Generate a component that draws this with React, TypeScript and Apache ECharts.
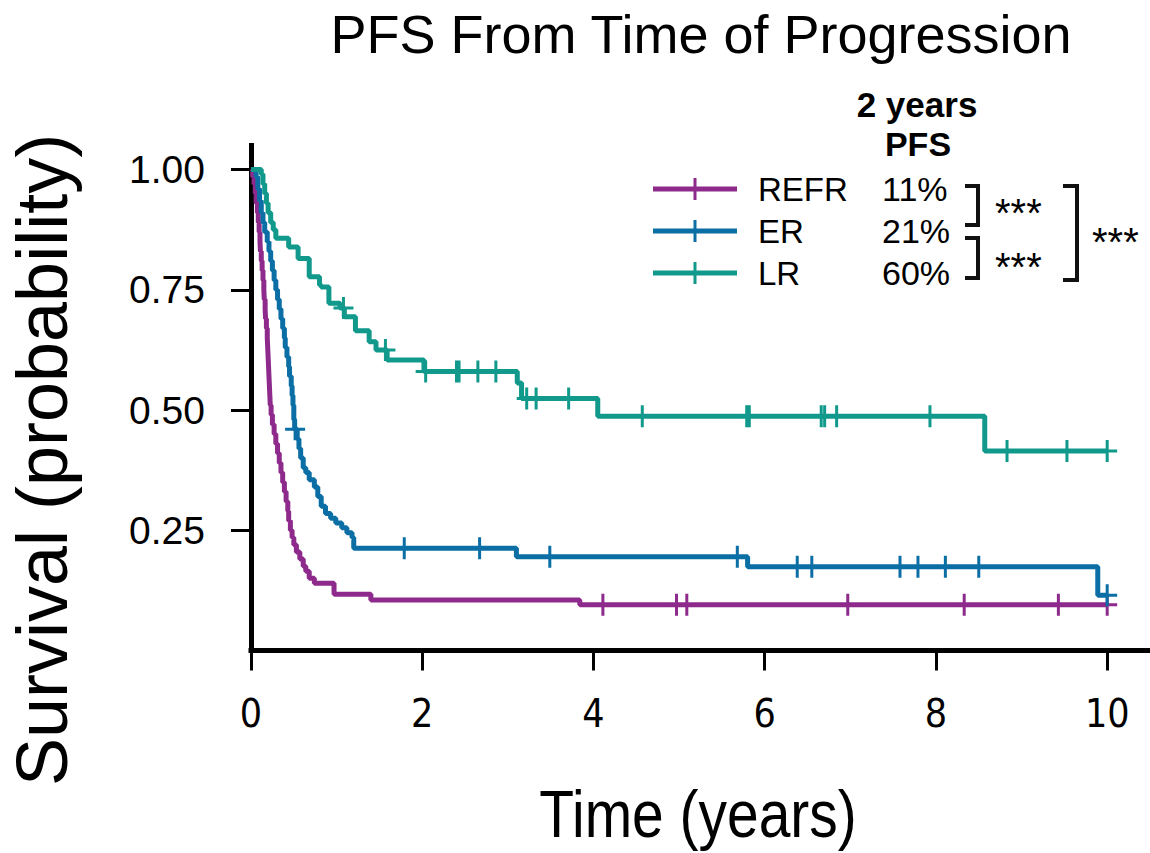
import React, { useEffect, useRef } from "react";
import * as echarts from "echarts";

// ---------- data ----------
const SERIES_NAMES = ["REFR", "ER", "LR"];
const SERIES_COLORS = ["#8D2A8B", "#0B6FA5", "#11998C"];
const PFS_2Y = ["11%", "21%", "60%"];
const X_TICKS = [0, 2, 4, 6, 8, 10];
const Y_TICKS = [0.25, 0.5, 0.75, 1.0];

// Kaplan-Meier steps [time (years), survival]
const REFR_STEPS = [
  [0, 1.0], [0.02, 0.985], [0.035, 0.97], [0.05, 0.95], [0.06, 0.93], [0.075, 0.91],
  [0.085, 0.89], [0.095, 0.87], [0.105, 0.85], [0.11, 0.83], [0.12, 0.81], [0.13, 0.79],
  [0.14, 0.77], [0.15, 0.75], [0.155, 0.73], [0.165, 0.71], [0.17, 0.69], [0.18, 0.67],
  [0.19, 0.65], [0.195, 0.63], [0.2, 0.61], [0.205, 0.59], [0.21, 0.57], [0.215, 0.55],
  [0.22, 0.53], [0.225, 0.51], [0.235, 0.49], [0.25, 0.47], [0.27, 0.45], [0.29, 0.43],
  [0.31, 0.41], [0.33, 0.39], [0.35, 0.37], [0.37, 0.35], [0.39, 0.33], [0.41, 0.31],
  [0.43, 0.29], [0.44, 0.27], [0.46, 0.25], [0.48, 0.235], [0.5, 0.22], [0.53, 0.205],
  [0.57, 0.19], [0.61, 0.175], [0.64, 0.165], [0.68, 0.15], [0.74, 0.14], [0.97, 0.117],
  [1.4, 0.105], [3.84, 0.095], [10.0, 0.095],
];
const REFR_CENSORED = [4.11, 4.97, 5.09, 6.97, 8.33, 9.43, 10.0];

const ER_STEPS = [
  [0, 1.0], [0.06, 0.985], [0.08, 0.96], [0.1, 0.935], [0.12, 0.91], [0.14, 0.89],
  [0.16, 0.87], [0.19, 0.85], [0.21, 0.83], [0.23, 0.81], [0.25, 0.79], [0.27, 0.77],
  [0.29, 0.75], [0.31, 0.73], [0.33, 0.71], [0.35, 0.69], [0.37, 0.67], [0.39, 0.65],
  [0.4, 0.63], [0.42, 0.61], [0.44, 0.59], [0.45, 0.57], [0.47, 0.55], [0.48, 0.53],
  [0.49, 0.51], [0.5, 0.48], [0.51, 0.46], [0.54, 0.44], [0.56, 0.42], [0.58, 0.4],
  [0.61, 0.38], [0.64, 0.37], [0.68, 0.355], [0.74, 0.34], [0.78, 0.32], [0.82, 0.3],
  [0.87, 0.285], [0.93, 0.275], [0.99, 0.265], [1.06, 0.255], [1.12, 0.245], [1.18, 0.235],
  [1.2, 0.2125], [3.1, 0.195], [5.8, 0.174], [9.89, 0.115], [10.0, 0.115],
];
const ER_CENSORED = [0.515, 1.79, 2.67, 3.49, 5.68, 6.38, 6.55, 7.58, 7.79, 8.11, 8.5, 10.0];

const LR_STEPS = [
  [0, 1.0], [0.12, 0.99], [0.14, 0.97], [0.16, 0.95], [0.18, 0.93], [0.2, 0.91],
  [0.23, 0.89], [0.26, 0.875], [0.29, 0.857], [0.44, 0.839], [0.55, 0.815], [0.68, 0.777],
  [0.8, 0.76], [0.82, 0.756], [0.91, 0.722], [1.04, 0.712], [1.09, 0.694], [1.22, 0.665],
  [1.38, 0.642], [1.46, 0.625], [1.59, 0.604], [2.02, 0.58], [3.11, 0.556], [3.16, 0.524],
  [4.05, 0.487], [8.57, 0.415], [10.0, 0.415],
];
const LR_CENSORED = [
  1.08, 1.57, 2.04, 2.4, 2.43, 2.65, 2.86, 3.22, 3.33, 3.71, 4.57, 5.79, 5.82, 6.66, 6.7,
  6.84, 7.93, 8.83, 9.53, 10.0,
];

// ---------- helpers ----------
const PLUS = "path://M-10,-1.5H10V1.5H-10Z M-1.5,-11H1.5V11H-1.5Z";
const LEGEND_ICON = "path://M0,8.5H84V13.5H0Z M40.5,0H43.5V22H40.5Z";

function survivalAt(steps: number[][], t: number): number {
  let s = steps[0][1];
  for (const [st, sv] of steps) {
    if (st <= t) s = sv;
    else break;
  }
  return s;
}

function buildData(steps: number[][], censored: number[]) {
  const items: { t: number; s: number; c: boolean }[] = [];
  steps.forEach(([t, s]) => items.push({ t, s, c: false }));
  censored.forEach((t) => items.push({ t, s: survivalAt(steps, t), c: true }));
  items.sort((a, b) => (a.t - b.t) || (a.c ? 1 : 0) - (b.c ? 1 : 0));
  return items.map((it) =>
    it.c
      ? { value: [it.t, it.s], symbol: PLUS, symbolSize: [20, 22] }
      : { value: [it.t, it.s] }
  );
}

const ALL_STEPS = [REFR_STEPS, ER_STEPS, LR_STEPS];
const ALL_CENSORED = [REFR_CENSORED, ER_CENSORED, LR_CENSORED];

const SANS = '"Liberation Sans", Arial, sans-serif';
const NARROW = '"Liberation Sans Narrow", "DejaVu Sans Condensed", sans-serif';

function textStyle(text: string, font: string, align = "center") {
  return {
    text,
    font,
    fill: "#000",
    align,
    verticalAlign: "middle",
    textAlign: align,
    textVerticalAlign: "middle",
  };
}

export default function App() {
  const ref = useRef<HTMLDivElement>(null);

  useEffect(() => {
    document.body.style.margin = "0";
    if (!ref.current) return;
    const chart = echarts.init(ref.current, undefined, { renderer: "svg" });

    const series = SERIES_NAMES.map((name, i) => ({
      type: "line",
      name,
      step: "end",
      data: buildData(ALL_STEPS[i], ALL_CENSORED[i]),
      symbol: "none",
      showSymbol: true,
      lineStyle: { width: 5, color: SERIES_COLORS[i] },
      itemStyle: { color: SERIES_COLORS[i] },
      emphasis: { disabled: true },
      z: 2 + i,
    }));

    const bracketStyle = { stroke: "#111", lineWidth: 4, fill: null };

    chart.setOption({
      animation: false,
      backgroundColor: "#fff",
      grid: { left: 251, right: 0, top: 145.5, bottom: 202.5, containLabel: false },
      xAxis: {
        type: "value",
        min: 0,
        max: 10.5,
        axisLine: { show: true, lineStyle: { color: "#000", width: 5, cap: "square" } },
        axisTick: {
          show: true,
          customValues: X_TICKS,
          length: 20,
          lineStyle: { color: "#000", width: 3 },
        },
        axisLabel: {
          customValues: X_TICKS,
          fontFamily: NARROW,
          fontSize: 39,
          color: "#000",
          margin: 43,
        },
        splitLine: { show: false },
      },
      yAxis: {
        type: "value",
        min: 0,
        max: 1.05,
        axisLine: { show: true, lineStyle: { color: "#000", width: 5, cap: "square" } },
        axisTick: {
          show: true,
          customValues: Y_TICKS,
          length: 20,
          lineStyle: { color: "#000", width: 3 },
        },
        axisLabel: {
          customValues: Y_TICKS,
          formatter: (v: number) => v.toFixed(2),
          fontFamily: SANS,
          fontSize: 39,
          color: "#000",
          margin: 46,
        },
        splitLine: { show: false },
      },
      legend: {
        show: true,
        orient: "vertical",
        left: 653,
        top: 172,
        padding: 0,
        itemWidth: 84,
        itemHeight: 22,
        itemGap: 8,
        icon: LEGEND_ICON,
        selectedMode: false,
        data: SERIES_NAMES.map((n, i) => ({
          name: n,
          itemStyle: { color: SERIES_COLORS[i] },
        })),
        formatter: (name: string) => {
          const i = SERIES_NAMES.indexOf(name);
          return `{n|${name}}{p|${PFS_2Y[i]}}`;
        },
        textStyle: {
          fontFamily: SANS,
          fontSize: 33,
          color: "#000",
          rich: {
            n: { fontFamily: SANS, fontSize: 33, color: "#000", width: 124, padding: [0, 0, 0, 16], lineHeight: 38 },
            p: { fontFamily: SANS, fontSize: 34, color: "#000", lineHeight: 38 },
          },
        },
      },
      graphic: [
        {
          type: "text",
          x: 701,
          y: 34,
          style: textStyle("PFS From Time of Progression", `54px ${SANS}`),
        },
        {
          type: "text",
          x: 698,
          y: 814,
          scaleX: 0.85,
          style: textStyle("Time (years)", `67px ${SANS}`),
        },
        {
          type: "text",
          x: 42,
          y: 460,
          rotation: Math.PI / 2,
          style: textStyle("Survival (probability)", `72px ${SANS}`),
        },
        {
          type: "text",
          x: 917,
          y: 104,
          style: textStyle("2 years", `bold 35px ${SANS}`),
        },
        {
          type: "text",
          x: 918,
          y: 144,
          style: textStyle("PFS", `bold 34px ${SANS}`),
        },
        {
          type: "polyline",
          shape: { points: [[965, 186], [978, 186], [978, 225], [965, 225]] },
          style: bracketStyle,
        },
        {
          type: "polyline",
          shape: { points: [[965, 238], [978, 238], [978, 278], [965, 278]] },
          style: bracketStyle,
        },
        {
          type: "polyline",
          shape: { points: [[1063, 186], [1077, 186], [1077, 280], [1063, 280]] },
          style: bracketStyle,
        },
        ...[
          [995, 213],
          [995, 267],
          [1092, 242],
        ].map(([x, y]) => ({
          type: "text",
          x,
          y,
          style: textStyle("***", `40px ${SANS}`, "left"),
        })),
      ],
      series,
    });

    return () => chart.dispose();
  }, []);

  return <div ref={ref} style={{ width: 1150, height: 853 }} />;
}
